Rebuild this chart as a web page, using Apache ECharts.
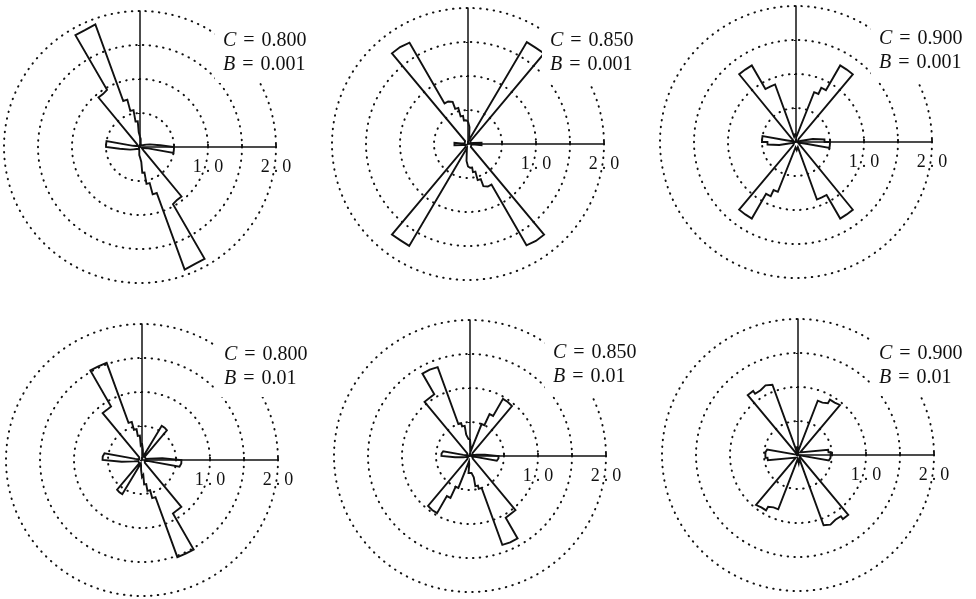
<!DOCTYPE html>
<html>
<head>
<meta charset="utf-8">
<script src="https://cdn.jsdelivr.net/npm/echarts@6/dist/echarts.min.js"></script>
<style>
  html, body { margin: 0; padding: 0; background: #fff; }
  #chart { width: 976px; height: 599px; }
</style>
</head>
<body>
<div id="chart"></div>
<script>
// Rose diagrams of orientation: 5-degree bins from 0 to 180 degrees,
// measured clockwise from north. The orientations are axial, so every bin
// is drawn again at +180 degrees.
const binWidth = 5;
const ringTicks = [0, 0.5, 1.0, 1.5, 2.0];
const labeledRadii = [1.0, 2.0];
const panelC = ['0.800', '0.850', '0.900', '0.800', '0.850', '0.900'];
const panelB = ['0.001', '0.001', '0.001', '0.01', '0.01', '0.01'];

const roseC800B001 = [
  0.15, 0.12, 0.06, 0.05, 0.04, 0.03, 0.03, 0.04, 0.03, 0.03, 0.04, 0.05,
  0.06, 0.08, 0.10, 0.15, 0.15, 0.30, 0.50, 0.50, 0.10, 0.06, 0.04, 0.04,
  0.03, 0.04, 0.05, 0.08, 0.95, 0.97, 1.90, 1.92, 0.72, 0.55, 0.38, 0.22
];
const roseC850B001 = [
  0.33, 0.25, 0.10, 0.06, 0.05, 0.08, 1.73, 1.74, 0.06, 0.04, 0.03, 0.03,
  0.03, 0.03, 0.04, 0.05, 0.08, 0.20, 0.20, 0.10, 0.05, 0.04, 0.03, 0.03,
  0.03, 0.03, 0.04, 0.06, 1.74, 1.72, 0.69, 0.66, 0.55, 0.42, 0.35, 0.33
];
const roseC900B001 = [
  0.12, 0.08, 0.06, 0.08, 0.78, 0.88, 1.30, 1.30, 0.06, 0.03, 0.03, 0.03,
  0.03, 0.03, 0.03, 0.06, 0.25, 0.42, 0.50, 0.50, 0.15, 0.03, 0.03, 0.03,
  0.03, 0.03, 0.03, 0.05, 1.30, 1.30, 0.90, 0.90, 0.08, 0.06, 0.08, 0.12
];
const roseC800B01 = [
  0.25, 0.15, 0.08, 0.06, 0.05, 0.10, 0.58, 0.57, 0.06, 0.04, 0.03, 0.03,
  0.04, 0.05, 0.05, 0.06, 0.12, 0.30, 0.58, 0.56, 0.10, 0.04, 0.03, 0.03,
  0.03, 0.03, 0.04, 0.06, 0.90, 0.91, 1.52, 1.52, 0.58, 0.46, 0.36, 0.22
];
const roseC850B01 = [
  0.25, 0.12, 0.08, 0.10, 0.50, 0.68, 0.97, 0.96, 0.06, 0.03, 0.03, 0.03,
  0.03, 0.03, 0.03, 0.05, 0.10, 0.22, 0.42, 0.40, 0.10, 0.03, 0.03, 0.03,
  0.03, 0.03, 0.03, 0.06, 1.04, 1.05, 1.40, 1.39, 0.50, 0.45, 0.32, 0.25
];
const roseC900B01 = [
  0.12, 0.06, 0.05, 0.06, 0.85, 0.88, 0.94, 0.96, 0.05, 0.02, 0.02, 0.02,
  0.02, 0.02, 0.02, 0.05, 0.45, 0.48, 0.48, 0.46, 0.05, 0.02, 0.02, 0.02,
  0.02, 0.02, 0.02, 0.05, 1.15, 1.10, 1.13, 1.10, 0.06, 0.05, 0.06, 0.12
];
const panelRoses = [roseC800B001, roseC850B001, roseC900B001,
                    roseC800B01, roseC850B01, roseC900B01];

// Page layout (pixels): centre of each diagram, its outer radius, and the
// top-left corner of its parameter box.
const layout = {
  centers: [[140, 147], [468, 144], [796, 142], [142, 460], [470, 456], [798, 455]],
  radius: 136,
  boxes: [[215, 23], [542, 23], [871, 21], [216, 337], [545, 335], [871, 336]]
};

const serif = '"Liberation Serif", "DejaVu Serif", serif';
const ink = '#111';

// Outline of a rose: walk the bins around the full circle, the outer edge of
// each bin followed by the radial step to the next one.
function roseOutline(values) {
  const pts = [];
  const n = values.length;
  for (let k = 0; k < 2 * n; k++) {
    const r = values[k % n];
    const a0 = k * binWidth;
    pts.push([r, a0], [r, a0 + binWidth]);
  }
  pts.push(pts[0]);
  return pts;
}

function radiusLabel(v) {
  const hit = labeledRadii.find(x => Math.abs(x - v) < 1e-9);
  if (hit === undefined) return '';
  const s = hit.toFixed(1).split('.');
  return '{d|' + s[0] + '}{p|.}{d|' + s[1] + '}';
}

const polar = [], angleAxis = [], radiusAxis = [], series = [], title = [];
const rMax = ringTicks[ringTicks.length - 1];
const rStep = ringTicks[1] - ringTicks[0];

const txt = { fontFamily: serif, fontSize: 20, fontWeight: 'normal', color: ink, lineHeight: 24 };

layout.centers.forEach((c, p) => {
  // polar 2p: horizontal axis with tick labels and the dotted rings
  polar.push({ center: c, radius: layout.radius });
  angleAxis.push({
    polarIndex: 2 * p, type: 'value', min: 0, max: 360, startAngle: 0,
    axisLine: { show: false }, axisTick: { show: false },
    axisLabel: { show: false }, splitLine: { show: false }
  });
  radiusAxis.push({
    polarIndex: 2 * p, type: 'value', min: 0, max: rMax, interval: rStep,
    axisLine: { show: true, lineStyle: { color: ink, width: 1.7 } },
    axisTick: { show: true, length: 3, lineStyle: { color: ink, width: 1.8 } },
    axisLabel: {
      show: true, formatter: radiusLabel, margin: -11,
      align: 'center', verticalAlign: 'top',
      rich: {
        d: { fontFamily: serif, fontSize: 18, color: ink },
        p: { fontFamily: serif, fontSize: 18, color: ink, padding: [0, 4, 0, 4] }
      }
    },
    splitLine: {
      show: true,
      lineStyle: { color: ink, width: 2, type: [0.5, 6.3], cap: 'round' }
    }
  });

  // polar 2p+1: vertical axis and the rose itself (angles clockwise from north)
  polar.push({ center: c, radius: layout.radius });
  angleAxis.push({
    polarIndex: 2 * p + 1, type: 'value', min: 0, max: 360,
    startAngle: 90, clockwise: true,
    axisLine: { show: false }, axisTick: { show: false },
    axisLabel: { show: false }, splitLine: { show: false }
  });
  radiusAxis.push({
    polarIndex: 2 * p + 1, type: 'value', min: 0, max: rMax, interval: rStep,
    axisLine: { show: true, lineStyle: { color: ink, width: 1.5 } },
    axisTick: { show: true, length: 2, lineStyle: { color: ink, width: 1.2 } },
    axisLabel: { show: false }, splitLine: { show: false }
  });

  series.push({
    type: 'line', coordinateSystem: 'polar', polarIndex: 2 * p + 1,
    data: roseOutline(panelRoses[p]),
    symbol: 'none', showSymbol: false, smooth: false,
    lineStyle: { color: ink, width: 1.9, join: 'miter' },
    silent: true, z: 3
  });

  title.push({
    left: layout.boxes[p][0], top: layout.boxes[p][1],
    text: '{i|C}{e| = }{n|' + panelC[p] + '}\n{i|B}{e| = }{n|' + panelB[p] + '}',
    backgroundColor: '#fff', padding: [6, 8, 6, 8],
    textStyle: {
      fontWeight: 'normal', lineHeight: 24,
      rich: {
        i: Object.assign({}, txt, { fontStyle: 'italic' }),
        e: Object.assign({}, txt, { padding: [0, 2, 0, 2] }),
        n: txt
      }
    }
  });
});

const chart = echarts.init(document.getElementById('chart'), null, { renderer: 'canvas' });
chart.setOption({
  animation: false,
  backgroundColor: '#fff',
  title, polar, angleAxis, radiusAxis, series
});
</script>
</body>
</html>
